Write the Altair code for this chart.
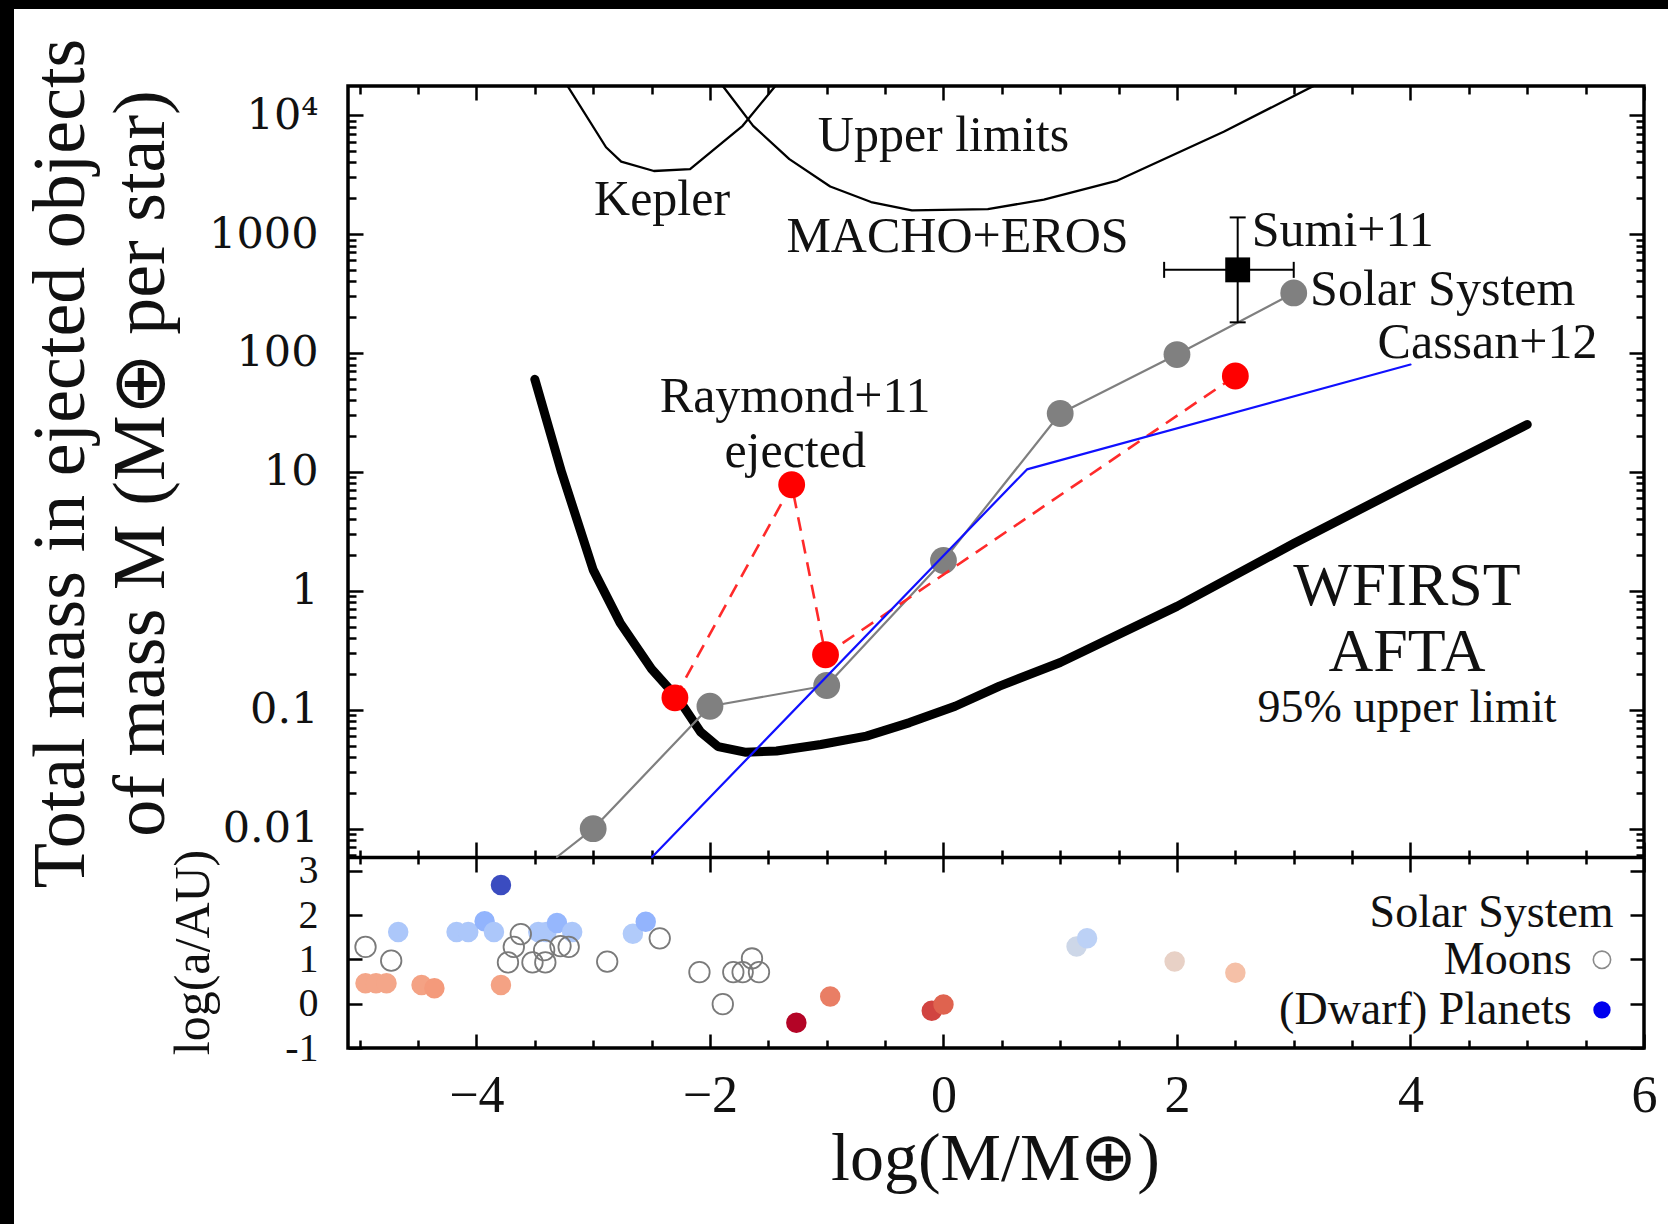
import altair as alt
import pandas as pd

# ------------------------------------------------------------------ data
# Top panel: x = log10(M / M_earth), y = total mass in ejected objects (M_earth per star)
wfirst_logm = [-3.50, -3.27, -3.00, -2.77, -2.50, -2.27, -2.08, -1.93, -1.70,
               -1.43, -1.05, -0.66, -0.29, 0.10, 0.48, 1.00, 2.00, 3.00, 4.00, 5.00]
wfirst_mass = [60, 9.9, 1.5, 0.54, 0.22, 0.123, 0.065, 0.049, 0.044,
               0.045, 0.051, 0.060, 0.078, 0.107, 0.158, 0.25, 0.74, 2.5, 8.0, 25]

kepler_logm = [-3.22, -2.89, -2.76, -2.48, -2.17, -1.72, -1.44]
kepler_mass = [17600, 5370, 4070, 3390, 3510, 8130, 17600]

macho_logm = [-1.89, -1.63, -1.32, -0.97, -0.62, -0.27, 0.38, 0.86, 1.49, 2.40, 3.17]
macho_mass = [17600, 8130, 4270, 2510, 1860, 1585, 1620, 1950, 2820, 7240, 17600]

solar_line_logm = [-3.31, -3.0, -2.0, -1.0, 0.0, 1.0, 2.0, 3.0]
solar_line_mass = [0.00578, 0.010, 0.107, 0.16, 1.8, 31, 97, 320]
solar_logm = [-3.0, -2.0, -1.0, 0.0, 1.0, 2.0, 3.0]
solar_mass = [0.010, 0.107, 0.16, 1.8, 31, 97, 320]

cassan_logm = [-2.495, 0.715, 4.0]
cassan_mass = [0.00578, 10.5, 80]

raymond_logm = [-2.30, -1.30, -1.01, 2.50]
raymond_mass = [0.126, 7.8, 0.29, 64]

sumi_logm = [2.52]
sumi_mass = [500]
sumi_logm_range = [1.89, 3.00]
sumi_mass_range = [181, 1380]

# annotation labels (text, log M, mass)
labels_center = ["Upper limits", "Kepler", "MACHO+EROS", "Cassan+12", "Raymond+11", "ejected"]
labels_center_x = [0.00, -2.41, 0.12, 4.66, -1.27, -1.27]
labels_center_y = [6650, 1925, 940, 122, 42.6, 14.6]
labels_left = ["Sumi+11", "Solar System"]
labels_left_x = [2.64, 3.14]
labels_left_y = [1057, 337]
labels_big = ["WFIRST", "AFTA"]
labels_big_x = [3.97, 3.97]
labels_big_y = [1.09, 0.306]
labels_small = ["95% upper limit"]
labels_small_x = [3.97]
labels_small_y = [0.104]

# Bottom panel: log10(a / AU) of Solar System bodies
planet_logm = [-3.79, -4.67, -4.17, -4.07, -3.93, -3.85, -3.47, -3.40, -3.31, -3.18, -2.66, -2.55,
               1.14, 1.23, 1.98, 2.50,
               -4.95, -4.86, -4.77, -4.47, -4.36, -3.79, -0.97, -1.26, -0.10, 0.00]
planet_loga = [2.68, 1.62, 1.62, 1.62, 1.86, 1.62, 1.62, 1.62, 1.82, 1.62, 1.58, 1.85,
               1.29, 1.475, 0.95, 0.70,
               0.46, 0.46, 0.46, 0.42, 0.35, 0.42, 0.16, -0.43, -0.16, -0.02]
moon_logm = [-4.95, -4.73, -3.73, -3.68, -3.62, -3.52, -3.42, -3.41, -3.28, -3.21,
             -2.88, -2.43, -2.09, -1.89, -1.80, -1.72, -1.64, -1.58]
moon_loga = [1.28, 0.97, 0.93, 1.28, 1.57, 0.93, 1.21, 0.93, 1.30, 1.28,
             0.95, 1.475, 0.71, -0.01, 0.71, 0.71, 1.02, 0.71]

legend_labels_right = ["Solar System"]
legend_labels_right_x = [5.74]
legend_labels_right_y = [2.05]
legend_labels = ["Moons", "(Dwarf) Planets"]
legend_labels_x = [5.38, 5.38]
legend_labels_y = [0.99, -0.14]
legend_moon_x, legend_moon_y = [5.64], [0.99]
legend_planet_x, legend_planet_y = [5.64], [-0.14]

# axis ticks
x_tick_labels = [-4, -2, 0, 2, 4, 6]
x_ticks_all = [-5, -4.5, -4, -3.5, -3, -2.5, -2, -1.5, -1, -0.5, 0, 0.5, 1, 1.5,
               2, 2.5, 3, 3.5, 4, 4.5, 5, 5.5, 6]
ytop_tick_labels = [0.01, 0.1, 1, 10, 100, 1000, 10000]
ybot_tick_labels = [-1, 0, 1, 2, 3]

# ------------------------------------------------------------------ layout
W, H, HTOP = 1296, 962, 771
YMIN, YMAX = 0.00578, 17580.0
ytop_ticks_all = [m * 10.0 ** e for e in range(-3, 5) for m in range(1, 10)
                  if YMIN <= m * 10.0 ** e <= YMAX]

xscale = alt.Scale(domain=[-5.1, 6], nice=False, zero=False)
ytop = alt.Scale(type="log", domain=[YMIN, YMAX], range=[HTOP, 0], nice=False)
ybot = alt.Scale(domain=[-1, 3.31], range=[H, HTOP], nice=False, zero=False)

SERIF = "Liberation Serif"


def df_xy(xs, ys, **extra):
    d = {"x": xs, "y": ys}
    d.update(extra)
    return pd.DataFrame(d)


def enc(chart, yscale, **kw):
    return chart.encode(
        x=alt.X("x:Q", scale=xscale, axis=None),
        y=alt.Y("y:Q", scale=yscale, axis=None),
        **kw,
    )


def line(xs, ys, color, width, dash=None):
    kw = dict(color=color, strokeWidth=width, clip=True, strokeJoin="round", strokeCap="round")
    if dash:
        kw["strokeDash"] = dash
        kw["strokeCap"] = "butt"
    return enc(alt.Chart(df_xy(xs, ys, i=list(range(len(xs))))).mark_line(**kw), ytop,
               order="i:Q")


def texts(txt, xs, ys, yscale, size, align="center"):
    return enc(alt.Chart(df_xy(xs, ys, t=txt)).mark_text(
        font=SERIF, fontSize=size, align=align, baseline="middle", color="#111111"),
        yscale, text="t:N")


# decorative black frame of the original screenshot
frame_left = alt.Chart(alt.Data(values=[{}])).mark_rect(color="black", clip=False).encode(
    x=alt.value(-348), x2=alt.value(-334), y=alt.value(-86), y2=alt.value(H + 176))
frame_top = alt.Chart(alt.Data(values=[{}])).mark_rect(color="black", clip=False).encode(
    x=alt.value(-348), x2=alt.value(W + 24), y=alt.value(-86), y2=alt.value(-77))

wfirst = line(wfirst_logm, wfirst_mass, "black", 9)
kepler = line(kepler_logm, kepler_mass, "black", 2.3)
macho = line(macho_logm, macho_mass, "black", 2.3)
solar_line = line(solar_line_logm, solar_line_mass, "#7f7f7f", 2.2)
solar_pts = enc(alt.Chart(df_xy(solar_logm, solar_mass)).mark_circle(
    size=720, color="#808080", opacity=1), ytop)
ray_line = line(raymond_logm, raymond_mass, "#ff2a2a", 2.6, dash=[14, 9])
ray_pts = enc(alt.Chart(df_xy(raymond_logm, raymond_mass)).mark_circle(
    size=720, color="#ff0000", opacity=1), ytop)
cassan = line(cassan_logm, cassan_mass, "#1010ff", 2.2)

sumi_df = pd.DataFrame({"x": sumi_logm, "y": sumi_mass,
                        "xlo": [sumi_logm_range[0]], "xhi": [sumi_logm_range[1]],
                        "ylo": [sumi_mass_range[0]], "yhi": [sumi_mass_range[1]]})
sumi_h = alt.Chart(sumi_df).mark_rule(color="black", strokeWidth=2).encode(
    x=alt.X("xlo:Q", scale=xscale, axis=None), x2="xhi:Q",
    y=alt.Y("y:Q", scale=ytop, axis=None))
sumi_v = alt.Chart(sumi_df).mark_rule(color="black", strokeWidth=2).encode(
    x=alt.X("x:Q", scale=xscale, axis=None),
    y=alt.Y("ylo:Q", scale=ytop, axis=None), y2="yhi:Q")
sumi_cap_x = enc(alt.Chart(df_xy(sumi_logm_range, sumi_mass * 2)).mark_tick(
    orient="vertical", size=16, thickness=2, color="black", opacity=1), ytop)
sumi_cap_y = enc(alt.Chart(df_xy(sumi_logm * 2, sumi_mass_range)).mark_tick(
    orient="horizontal", size=16, thickness=2, color="black", opacity=1), ytop)
sumi_sq = enc(alt.Chart(df_xy(sumi_logm, sumi_mass)).mark_square(
    size=620, color="black", opacity=1), ytop)

t_center = texts(labels_center, labels_center_x, labels_center_y, ytop, 50)
t_left = texts(labels_left, labels_left_x, labels_left_y, ytop, 50, align="left")
t_big = texts(labels_big, labels_big_x, labels_big_y, ytop, 62)
t_small = texts(labels_small, labels_small_x, labels_small_y, ytop, 46)

# bottom panel
coolwarm_domain = [-0.43, -0.041, 0.348, 0.736, 1.125, 1.514, 1.903, 2.291, 2.68]
coolwarm_range = ["#b40426", "#de604d", "#f49a7b", "#f5c4ac", "#dddcdc",
                  "#b8d0f9", "#8db0fe", "#6282ea", "#3b4cc0"]
planets = enc(alt.Chart(df_xy(planet_logm, planet_loga)).mark_circle(size=420, opacity=1),
              ybot,
              color=alt.Color("y:Q", scale=alt.Scale(domain=coolwarm_domain,
                                                     range=coolwarm_range,
                                                     interpolate="rgb"), legend=None))
moons = enc(alt.Chart(df_xy(moon_logm, moon_loga)).mark_point(
    shape="circle", filled=False, size=420, strokeWidth=1.8, color="#7a7a7a", opacity=1), ybot)

leg_t1 = texts(legend_labels_right, legend_labels_right_x, legend_labels_right_y, ybot, 46,
               align="right")
leg_t2 = texts(legend_labels, legend_labels_x, legend_labels_y, ybot, 46, align="right")
leg_moon = enc(alt.Chart(df_xy(legend_moon_x, legend_moon_y)).mark_point(
    shape="circle", filled=False, size=300, strokeWidth=1.6, color="#8a8a8a", opacity=1), ybot)
leg_planet = enc(alt.Chart(df_xy(legend_planet_x, legend_planet_y)).mark_circle(
    size=300, color="#0000ee", opacity=1), ybot)

# ------------------------------------------------------------------ axes
x_cond = {"condition": {"test": "datum.value % 2 === 0", "value": 14}, "value": 8}
x_cond_sep = {"condition": {"test": "datum.value % 2 === 0", "value": 15}, "value": 7}
log_test = "abs(log(datum.value)/LN10 - round(log(datum.value)/LN10)) < 0.001"
y_cond = {"condition": {"test": log_test, "value": 15}, "value": 8}

common_tick = dict(labels=False, domain=False, grid=False, title="", tickColor="black",
                   tickWidth=2.5)


def axis_layer(xaxis, yaxis, yscale, yval):
    d = pd.DataFrame({"x": [0.0], "y": [yval]})
    xe = alt.X("x:Q", scale=xscale, axis=xaxis) if xaxis is not None else alt.X(
        "x:Q", scale=xscale, axis=None)
    return alt.Chart(d).mark_point(opacity=0).encode(
        x=xe, y=alt.Y("y:Q", scale=yscale, axis=yaxis))


ax_x_labels = alt.Axis(
    orient="bottom", values=x_tick_labels, ticks=False, tickSize=0, domain=False, grid=False,
    labelFont=SERIF, labelFontSize=52, labelPadding=22, labelFlush=False, labelOverlap=False,
    labelColor="#111111",
    title="log(M/M⊕)", titleFont=SERIF, titleFontSize=68, titleFontWeight="normal",
    titleColor="#111111", titleX=647, titleY=131, titleAlign="center",
    titleBaseline="alphabetic", titleAngle=0)
ax_x_bottom_in = alt.Axis(orient="top", offset=-H, values=x_ticks_all, tickSize=x_cond,
                          **common_tick)
ax_x_top_in = alt.Axis(orient="bottom", offset=-H, values=x_ticks_all, tickSize=x_cond,
                       **common_tick)
ax_x_sep_down = alt.Axis(orient="bottom", offset=-(H - HTOP), values=x_ticks_all,
                         tickSize=x_cond_sep, labels=False, domain=True, domainWidth=3.5,
                         domainColor="black", grid=False, title="", tickColor="black",
                         tickWidth=2.5)
ax_x_sep_up = alt.Axis(orient="top", offset=-HTOP, values=x_ticks_all, tickSize=x_cond_sep,
                       **common_tick)

ax_ytop_labels = alt.Axis(
    orient="left", values=ytop_tick_labels, ticks=False, tickSize=0, domain=False, grid=False,
    labelFont="DejaVu Serif", labelFontSize=43, labelPadding=30, labelOverlap=False,
    labelColor="#111111",
    labelExpr="datum.value >= 5000 ? '10⁴' : format(datum.value, '~g')",
    title=["Total mass in ejected objects", "of mass M (M⊕ per star)"],
    titleFont=SERIF, titleFontSize=74, titleFontWeight="normal", titleColor="#111111",
    titleLineHeight=80, titleAngle=270, titleX=-265, titleY=377, titleAlign="center",
    titleBaseline="alphabetic")
ax_ytop_left_in = alt.Axis(orient="right", offset=-W, values=ytop_ticks_all, tickSize=y_cond,
                           **common_tick)
ax_ytop_right_in = alt.Axis(orient="left", offset=-W, values=ytop_ticks_all, tickSize=y_cond,
                            **common_tick)

ax_ybot_labels = alt.Axis(
    orient="left", values=ybot_tick_labels, ticks=False, tickSize=0, domain=False, grid=False,
    labelFont=SERIF, labelFontSize=40, labelPadding=30, labelOverlap=False,
    labelColor="#111111",
    labelExpr="datum.value < 0 ? '-' + format(-datum.value, 'd') : format(datum.value, 'd')",
    title="log(a/AU)", titleFont=SERIF, titleFontSize=50, titleFontWeight="normal",
    titleColor="#111111", titleAngle=270, titleX=-140, titleY=866, titleAlign="center",
    titleBaseline="alphabetic")
ax_ybot_left_in = alt.Axis(orient="right", offset=-W, values=ybot_tick_labels, tickSize=14,
                           **common_tick)
ax_ybot_right_in = alt.Axis(orient="left", offset=-W, values=ybot_tick_labels, tickSize=14,
                            **common_tick)

axes = [
    axis_layer(ax_x_labels, ax_ytop_labels, ytop, 1.0),
    axis_layer(ax_x_bottom_in, ax_ytop_left_in, ytop, 1.0),
    axis_layer(ax_x_top_in, ax_ytop_right_in, ytop, 1.0),
    axis_layer(ax_x_sep_down, ax_ybot_labels, ybot, 1.0),
    axis_layer(ax_x_sep_up, ax_ybot_left_in, ybot, 1.0),
    axis_layer(None, ax_ybot_right_in, ybot, 1.0),
]

layers = [frame_left, frame_top,
          wfirst, kepler, macho, solar_line, solar_pts, ray_line, ray_pts, cassan,
          sumi_h, sumi_v, sumi_cap_x, sumi_cap_y, sumi_sq,
          t_center, t_left, t_big, t_small,
          planets, moons, leg_t1, leg_t2, leg_moon, leg_planet] + axes

chart = alt.layer(*layers).resolve_scale(
    x="shared", y="independent", color="independent"
).resolve_axis(
    x="independent", y="independent"
).properties(
    width=W, height=H,
    padding={"left": 348, "top": 86, "right": 24, "bottom": 176},
    autosize=alt.AutoSizeParams(type="none"),
    background="white",
).configure_view(
    stroke="black", strokeWidth=3.5
)

chart.save("out.html", embed_options={"renderer": "svg", "actions": False})
